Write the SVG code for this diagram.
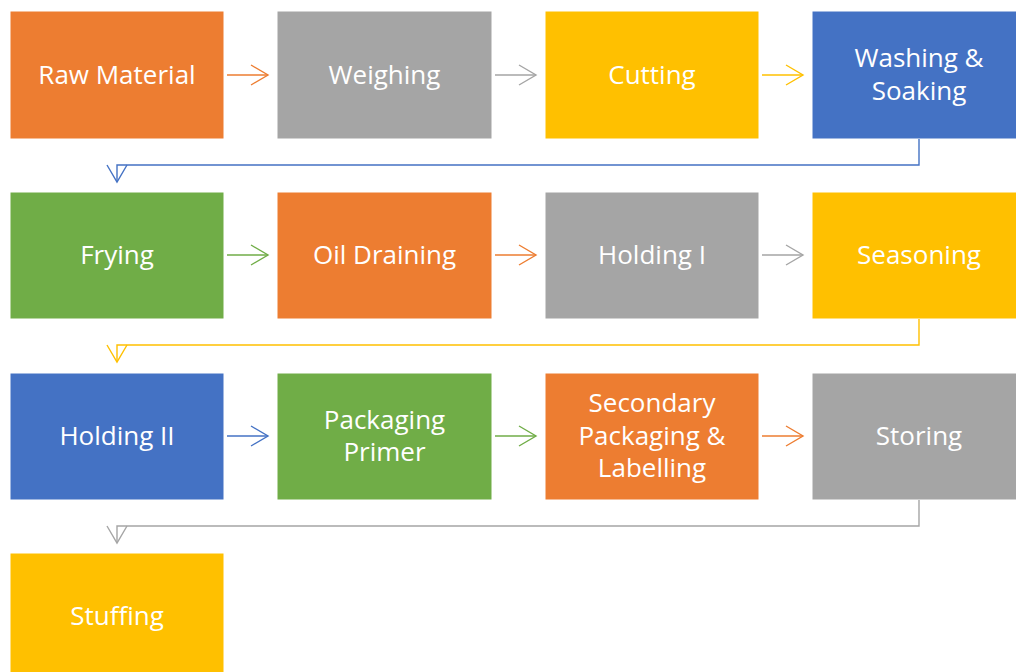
<svg xmlns="http://www.w3.org/2000/svg" width="1016" height="672" viewBox="0 0 1016 672">
  <style>
    .box { stroke: #ffffff; stroke-width: 1; }
    .orange { fill: #ED7D31; }
    .gray { fill: #A5A5A5; }
    .gold { fill: #FFC000; }
    .blue { fill: #4472C4; }
    .green { fill: #70AD47; }
    .label { font-family: "Open Sans", "Liberation Sans", Arial, sans-serif; font-size: 26px; fill: #ffffff; text-anchor: middle; }
    .conn { fill: none; stroke-width: 1.4; }
    .head { fill: none; stroke-width: 1.4; }
  </style>
  <rect width="1016" height="672" fill="#ffffff"/>

  <!-- Row 1 -->
  <g id="raw-material"><rect class="box orange" x="10" y="11" width="214" height="128"/><text class="label" x="117" y="84">Raw Material</text></g>
  <g id="weighing"><rect class="box gray" x="277" y="11" width="215" height="128"/><text class="label" x="384.5" y="84">Weighing</text></g>
  <g id="cutting"><rect class="box gold" x="545" y="11" width="214" height="128"/><text class="label" x="652" y="84">Cutting</text></g>
  <g id="washing-soaking"><rect class="box blue" x="812" y="11" width="214" height="128"/><text class="label" x="919" y="67">Washing &amp;</text><text class="label" x="919" y="100">Soaking</text></g>

  <!-- Row 2 -->
  <g id="frying"><rect class="box green" x="10" y="192" width="214" height="127"/><text class="label" x="117" y="264">Frying</text></g>
  <g id="oil-draining"><rect class="box orange" x="277" y="192" width="215" height="127"/><text class="label" x="384.5" y="264">Oil Draining</text></g>
  <g id="holding-1"><rect class="box gray" x="545" y="192" width="214" height="127"/><text class="label" x="652" y="264">Holding I</text></g>
  <g id="seasoning"><rect class="box gold" x="812" y="192" width="214" height="127"/><text class="label" x="919" y="264">Seasoning</text></g>

  <!-- Row 3 -->
  <g id="holding-2"><rect class="box blue" x="10" y="373" width="214" height="127"/><text class="label" x="117" y="445">Holding II</text></g>
  <g id="packaging-primer"><rect class="box green" x="277" y="373" width="215" height="127"/><text class="label" x="384.5" y="429">Packaging</text><text class="label" x="384.5" y="461">Primer</text></g>
  <g id="secondary-packaging"><rect class="box orange" x="545" y="373" width="214" height="127"/><text class="label" x="652" y="412">Secondary</text><text class="label" x="652" y="445">Packaging &amp;</text><text class="label" x="652" y="477">Labelling</text></g>
  <g id="storing"><rect class="box gray" x="812" y="373" width="214" height="127"/><text class="label" x="919" y="445">Storing</text></g>

  <!-- Row 4 -->
  <g id="stuffing"><rect class="box gold" x="10" y="553" width="214" height="128"/><text class="label" x="117" y="625">Stuffing</text></g>

  <!-- Connectors -->
  <g id="connectors">
    <!-- row 1 -->
    <g stroke="#ED7D31"><path class="conn" d="M227 75 H268"/><path class="head" d="M251 65 L268 75 L251 85"/></g>
    <g stroke="#A5A5A5"><path class="conn" d="M495 75 H536"/><path class="head" d="M519 65 L536 75 L519 85"/></g>
    <g stroke="#FFC000"><path class="conn" d="M762 75 H803"/><path class="head" d="M786 65 L803 75 L786 85"/></g>
    <g stroke="#4472C4"><path class="conn" d="M919 139 V165 H117 V182"/><path class="head" d="M107 165 L117 182 L127 165"/></g>
    <!-- row 2 -->
    <g stroke="#70AD47"><path class="conn" d="M227 255 H268"/><path class="head" d="M251 245 L268 255 L251 265"/></g>
    <g stroke="#ED7D31"><path class="conn" d="M495 255 H536"/><path class="head" d="M519 245 L536 255 L519 265"/></g>
    <g stroke="#A5A5A5"><path class="conn" d="M762 255 H803"/><path class="head" d="M786 245 L803 255 L786 265"/></g>
    <g stroke="#FFC000"><path class="conn" d="M919 319 V345 H117 V362"/><path class="head" d="M107 345 L117 362 L127 345"/></g>
    <!-- row 3 -->
    <g stroke="#4472C4"><path class="conn" d="M227 436 H268"/><path class="head" d="M251 426 L268 436 L251 446"/></g>
    <g stroke="#70AD47"><path class="conn" d="M495 436 H536"/><path class="head" d="M519 426 L536 436 L519 446"/></g>
    <g stroke="#ED7D31"><path class="conn" d="M762 436 H803"/><path class="head" d="M786 426 L803 436 L786 446"/></g>
    <g stroke="#A5A5A5"><path class="conn" d="M919 500 V526 H117 V543"/><path class="head" d="M107 526 L117 543 L127 526"/></g>
  </g>
</svg>
